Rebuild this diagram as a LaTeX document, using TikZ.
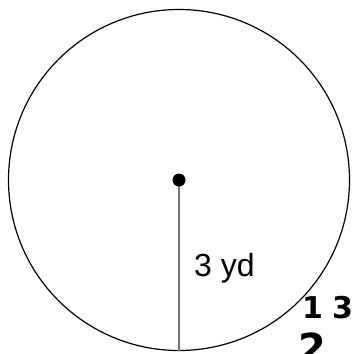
\documentclass[tikz,border=0pt]{standalone}
\usepackage{fontspec}
\setmainfont{Liberation Sans}
\newfontfamily\handfont{DejaVu Sans}
\begin{document}
\begin{tikzpicture}[x=1pt,y=-1pt,
  label/.style={font=\fontsize{32}{34}\selectfont, anchor=base west, inner sep=0pt},
  hand/.style={font=\handfont\bfseries\fontsize{30}{32}\selectfont, anchor=base west, inner sep=0pt}]
\useasboundingbox (0,0) rectangle (352,354);
\begin{scope}
\clip (0,0) rectangle (352,354);
\coordinate (c) at (179,180);
\coordinate (b) at (179,350.5);
\draw[line width=1.2pt] (c) circle[radius=170.5];
\draw[line width=2.2pt, draw=black!55] (c) -- (b);
\fill (c) circle[radius=6.5];
\node[label] (t) at (194,276) {3 yd};
\node[hand] (h1) at (302,318) {1\hspace{9pt}3};
\node[hand, font=\handfont\bfseries\fontsize{40}{42}\selectfont] (h2) at (298,362) {2};
\end{scope}
\end{tikzpicture}
\end{document}
